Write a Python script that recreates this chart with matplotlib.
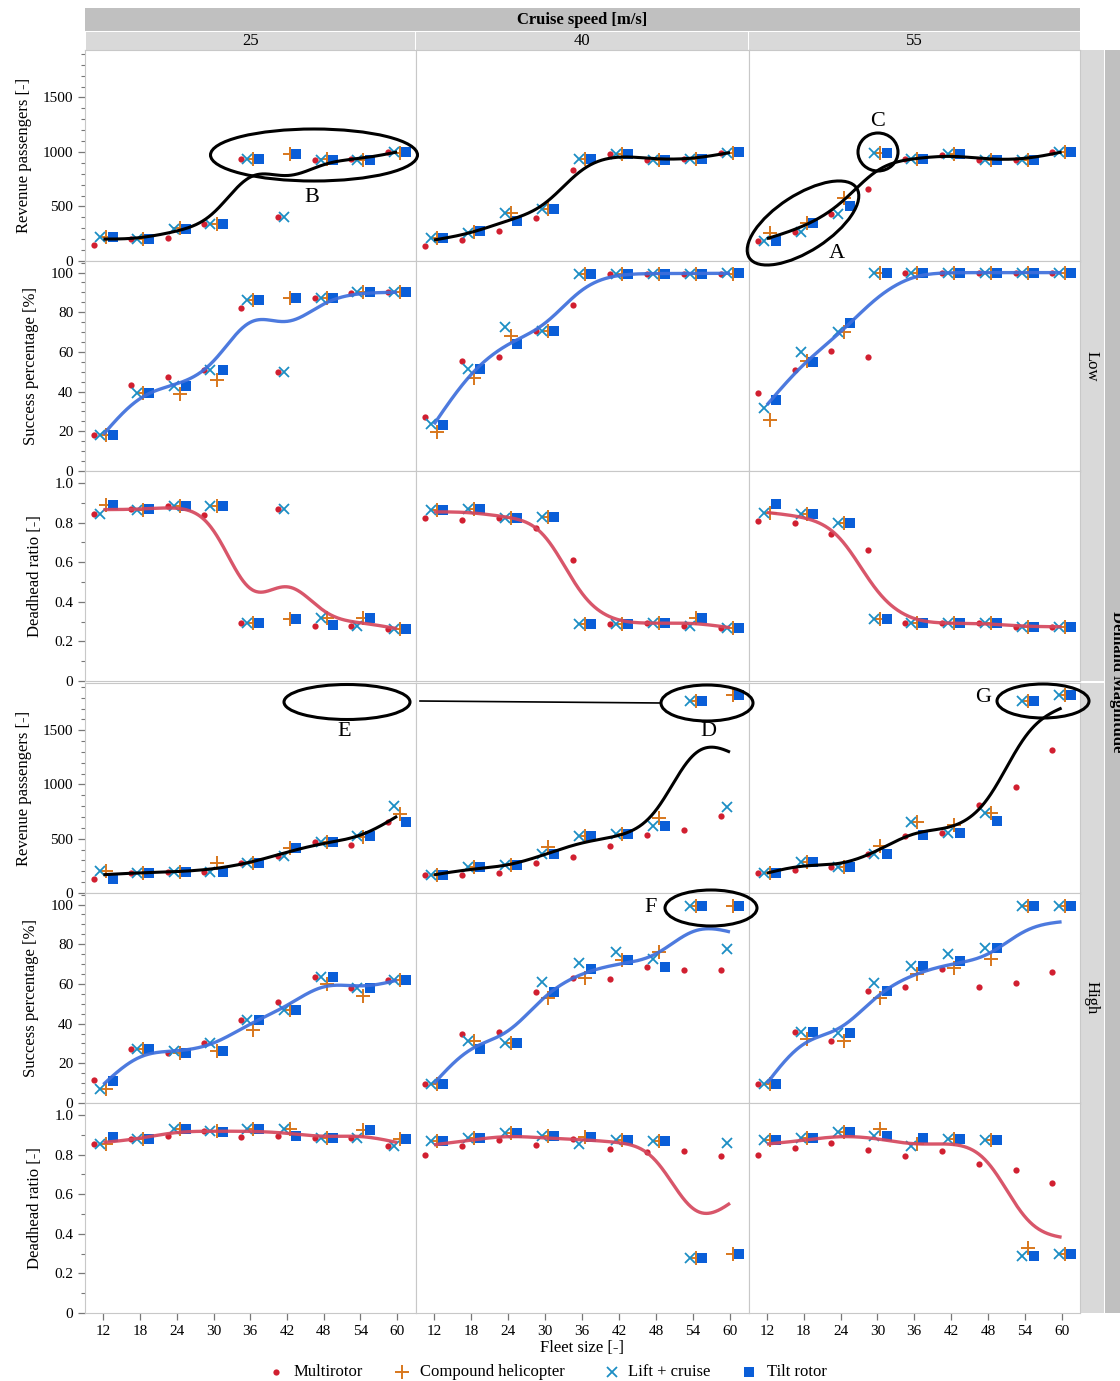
import numpy as np
import matplotlib
matplotlib.use("Agg")
import matplotlib.pyplot as plt
from matplotlib.patches import Ellipse, Rectangle
from matplotlib.lines import Line2D
from matplotlib.ticker import MultipleLocator, FuncFormatter

plt.rcParams['font.family'] = ['Liberation Serif', 'DejaVu Serif']

# ---------------- data ----------------
fleet = [12, 18, 24, 30, 36, 42, 48, 54, 60]
speeds = ['25', '40', '55']
demands = ['Low', 'High']
series = ['Multirotor', 'Compound helicopter', 'Lift + cruise', 'Tilt rotor']

# each panel: [Multirotor, Compound helicopter, Lift + cruise, Tilt rotor]
rev_low_25 = [[147, 199, 214, 336, 939, 401, 927, 932, 1003],
              [220, 200, 300, 336, 939, 979, 932, 930, 994],
              [220, 199, 291, 336, 939, 401, 927, 930, 1003],
              [220, 199, 291, 336, 938, 979, 927, 927, 1003]]
rev_low_40 = [[138, 193, 272, 394, 835, 979, 927, 932, 994],
              [214, 264, 437, 474, 939, 979, 927, 932, 994],
              [208, 256, 437, 474, 939, 979, 927, 932, 994],
              [214, 275, 367, 474, 939, 979, 927, 932, 1000]]
rev_low_55 = [[187, 269, 428, 663, 939, 969, 927, 927, 1000],
              [260, 346, 575, 991, 939, 979, 927, 927, 1000],
              [187, 269, 428, 991, 939, 979, 927, 927, 1000],
              [187, 346, 505, 991, 939, 982, 927, 927, 1000]]

succ_low_25 = [[18.2, 43.4, 47.3, 51, 82.2, 49.7, 87.2, 89.6, 90],
               [18.2, 39.5, 38.9, 46, 86.4, 87.2, 87.2, 90, 90],
               [18.2, 39.5, 42.9, 51, 86.4, 49.7, 87.2, 90, 90],
               [18.2, 39.2, 42.9, 51, 86.4, 87.2, 87.2, 90, 90]]
succ_low_40 = [[27.4, 55.6, 57.2, 70.7, 83.8, 99.5, 99.5, 99.5, 99.5],
               [19.4, 47.1, 68.2, 70.7, 99, 99.5, 99.5, 99.5, 99.5],
               [23.6, 51.3, 72.4, 70.7, 99, 99.5, 99.5, 99.5, 99.7],
               [23.2, 51.5, 64, 70.7, 99, 99.5, 99.5, 99.5, 99.7]]
succ_low_55 = [[39.5, 51, 60.6, 57.6, 99.8, 99.8, 99.8, 99.8, 99.8],
               [25.8, 55.6, 70, 99.8, 99.8, 100, 100, 100, 100],
               [31.6, 59.8, 70, 99.8, 99.8, 100, 100, 100, 100],
               [35.9, 54.9, 74.6, 99.8, 99.8, 100, 100, 100, 100]]

dead_low_25 = [[0.843, 0.867, 0.881, 0.838, 0.294, 0.867, 0.277, 0.277, 0.264],
               [0.886, 0.864, 0.881, 0.881, 0.294, 0.311, 0.32, 0.32, 0.264],
               [0.843, 0.864, 0.881, 0.881, 0.294, 0.867, 0.32, 0.277, 0.264],
               [0.889, 0.867, 0.881, 0.881, 0.294, 0.311, 0.281, 0.32, 0.264]]
dead_low_40 = [[0.821, 0.813, 0.825, 0.774, 0.609, 0.289, 0.291, 0.277, 0.269],
               [0.864, 0.869, 0.825, 0.83, 0.289, 0.289, 0.291, 0.316, 0.269],
               [0.864, 0.869, 0.825, 0.83, 0.289, 0.289, 0.291, 0.277, 0.269],
               [0.864, 0.869, 0.825, 0.83, 0.289, 0.289, 0.291, 0.316, 0.269]]
dead_low_55 = [[0.808, 0.799, 0.74, 0.66, 0.292, 0.291, 0.291, 0.274, 0.274],
               [0.85, 0.842, 0.799, 0.311, 0.292, 0.291, 0.291, 0.274, 0.274],
               [0.85, 0.842, 0.799, 0.311, 0.292, 0.291, 0.291, 0.274, 0.274],
               [0.893, 0.842, 0.799, 0.311, 0.292, 0.291, 0.291, 0.274, 0.274]]

rev_high_25 = [[130, 188, 194, 197, 275, 343, 466, 438, 651],
               [207, 188, 194, 275, 275, 414, 466, 512, 729],
               [207, 188, 194, 197, 275, 343, 466, 522, 806],
               [130, 188, 194, 197, 275, 414, 466, 522, 651]]
rev_high_40 = [[167, 167, 188, 275, 330, 429, 531, 577, 713],
               [167, 244, 259, 420, 528, 543, 691, 1771, 1824],
               [167, 244, 259, 358, 528, 543, 614, 1771, 790],
               [167, 244, 259, 358, 528, 543, 614, 1771, 1824]]
rev_high_55 = [[182, 213, 244, 358, 528, 552, 815, 975, 1318],
               [182, 290, 241, 435, 651, 630, 738, 1771, 1824],
               [182, 290, 241, 357, 651, 552, 738, 1771, 1824],
               [182, 290, 241, 357, 537, 552, 660, 1771, 1824]]

succ_high_25 = [[11.7, 27, 25.4, 30, 42, 51, 63.5, 58, 62],
                [7, 27, 25.4, 26.4, 37, 46.7, 60, 54, 62],
                [7, 27, 26, 30, 42, 46.7, 63.5, 58, 62],
                [11, 27, 25.4, 26.4, 42, 46.7, 63.5, 58, 62]]
succ_high_40 = [[9.6, 35, 36, 56, 63, 62.4, 68.5, 67, 67],
                [9.6, 31, 30, 53, 63, 72, 76, 99.5, 99.5],
                [9.6, 31, 30, 61, 70.6, 76, 72.6, 99.5, 77.7],
                [9.6, 27.4, 30, 56, 67.5, 72, 68.5, 99.5, 99.5]]
succ_high_55 = [[9.6, 36, 31, 56.3, 58.4, 67.5, 58.4, 60.4, 66],
                [9.6, 32, 31, 52.8, 65, 68, 72.6, 99.5, 99.5],
                [9.6, 36, 35.5, 60.4, 69, 75, 78, 99.5, 99.5],
                [9.6, 36, 35.5, 56.3, 69, 71.6, 78, 99.5, 99.5]]

dead_high_25 = [[0.852, 0.878, 0.893, 0.918, 0.888, 0.893, 0.883, 0.883, 0.842],
                [0.852, 0.878, 0.929, 0.918, 0.929, 0.929, 0.883, 0.923, 0.878],
                [0.852, 0.878, 0.929, 0.918, 0.929, 0.929, 0.883, 0.883, 0.842],
                [0.888, 0.878, 0.929, 0.913, 0.929, 0.893, 0.883, 0.923, 0.878]]
dead_high_40 = [[0.796, 0.842, 0.872, 0.847, 0.878, 0.827, 0.811, 0.816, 0.791],
                [0.867, 0.883, 0.908, 0.893, 0.888, 0.872, 0.867, 0.276, 0.296],
                [0.867, 0.883, 0.908, 0.893, 0.852, 0.872, 0.867, 0.276, 0.857],
                [0.867, 0.883, 0.908, 0.893, 0.888, 0.872, 0.867, 0.276, 0.296]]
dead_high_55 = [[0.796, 0.832, 0.857, 0.821, 0.791, 0.816, 0.75, 0.724, 0.658],
                [0.872, 0.883, 0.913, 0.929, 0.852, 0.878, 0.872, 0.327, 0.296],
                [0.872, 0.883, 0.913, 0.893, 0.842, 0.878, 0.872, 0.286, 0.296],
                [0.872, 0.883, 0.913, 0.893, 0.883, 0.878, 0.872, 0.286, 0.296]]

panels = [
    [rev_low_25, rev_low_40, rev_low_55],
    [succ_low_25, succ_low_40, succ_low_55],
    [dead_low_25, dead_low_40, dead_low_55],
    [rev_high_25, rev_high_40, rev_high_55],
    [succ_high_25, succ_high_40, succ_high_55],
    [dead_high_25, dead_high_40, dead_high_55],
]
row_metric = ['rev', 'succ', 'dead', 'rev', 'succ', 'dead']
ylabels = {'rev': 'Revenue passengers [-]', 'succ': 'Success percentage [%]',
           'dead': 'Deadhead ratio [-]'}

# ---------------- styling ----------------
W, H = 1120, 1381
fig = plt.figure(figsize=(W / 100, H / 100), dpi=100)

def rect(x0, y0, x1, y1):
    return [x0 / W, 1 - y1 / H, (x1 - x0) / W, (y1 - y0) / H]

col_edges = [(85, 415.5), (415.5, 748.5), (748.5, 1080)]
row_edges = [(50, 261), (261, 471), (471, 681), (683, 893), (893, 1103), (1103, 1313)]

mcol = ['#d11f30', '#d8771c', '#1c8ec4', '#0a5ed8']
mkind = ['o', '+', 'x', 's']
msize = [4.5, 9.5, 7.5, 6.5]
mew = [0, 1.4, 1.3, 0]
offs = [-1.5, 0.5, -0.5, 1.5]
curve_col = {'rev': '#000000', 'succ': '#3e6fdc', 'dead': '#d5475d'}
ylims = {'rev': (0, 1935), 'succ': (0, 105.8), 'dead': (0, 1.06)}
ymaj = {'rev': 500, 'succ': 20, 'dead': 0.2}
ymin = {'rev': 100, 'succ': 5, 'dead': 0.1}
spine_c = '#c8c8c8'

def smooth(x, y, xs, bw=4.0):
    """Gaussian-weighted local linear regression."""
    x = np.asarray(x, float)
    y = np.asarray(y, float)
    out = np.empty_like(xs)
    for i, x0 in enumerate(xs):
        w = np.exp(-0.5 * ((x - x0) / bw) ** 2)
        sw = w.sum()
        mx = (w * x).sum() / sw
        my = (w * y).sum() / sw
        sxx = (w * (x - mx) ** 2).sum()
        b = (w * (x - mx) * (y - my)).sum() / sxx if sxx > 0 else 0.0
        out[i] = my + b * (x0 - mx)
    return out

xs = np.linspace(12, 60, 400)
fx = np.array(fleet, float)

for r, (y0, y1) in enumerate(row_edges):
    metric = row_metric[r]
    for c, (x0, x1) in enumerate(col_edges):
        ax = fig.add_axes(rect(x0, y0, x1, y1))
        data = panels[r][c]
        for s in range(4):
            ax.plot(fx + offs[s], data[s], linestyle='none', marker=mkind[s],
                    ms=msize[s], mew=mew[s], color=mcol[s], zorder=3)
        means = np.mean(np.array(data, float), axis=0)
        ax.plot(xs, smooth(fx, means, xs), color=curve_col[metric],
                lw=2.4 if metric != 'rev' else 2.2, alpha=0.92 if metric != 'rev' else 1,
                zorder=4, solid_capstyle='butt')
        ax.set_xlim(9, 63)
        ax.set_ylim(*ylims[metric])
        ax.yaxis.set_major_locator(MultipleLocator(ymaj[metric]))
        ax.yaxis.set_minor_locator(MultipleLocator(ymin[metric]))
        ax.set_xticks(fleet)
        for sp in ax.spines.values():
            sp.set_color(spine_c)
            sp.set_linewidth(0.8)
        ax.tick_params(axis='both', which='both', colors='#777777', labelcolor='black',
                       labelsize=11, direction='out')
        ax.tick_params(axis='y', which='major', length=5, width=0.9)
        ax.tick_params(axis='y', which='minor', length=3, width=0.8)
        ax.tick_params(axis='x', length=5, width=0.9)
        if c != 0:
            ax.tick_params(axis='y', which='both', left=False, labelleft=False)
        else:
            if metric == 'dead':
                ax.yaxis.set_major_formatter(
                    FuncFormatter(lambda v, p: '0' if abs(v) < 1e-9 else f'{v:.1f}'))
            else:
                ax.yaxis.set_major_formatter(FuncFormatter(lambda v, p: f'{v:.0f}'))
            ax.set_ylabel(ylabels[metric], fontsize=12, labelpad=8)
        if r != 5:
            ax.tick_params(axis='x', bottom=False, labelbottom=False)

# ---------------- strips ----------------
def add_rect(x0, y0, x1, y1, color):
    fig.add_artist(Rectangle((x0 / W, 1 - y1 / H), (x1 - x0) / W, (y1 - y0) / H,
                             transform=fig.transFigure, facecolor=color,
                             edgecolor='none', zorder=0))

add_rect(85, 8, 1080, 31, '#c0c0c0')
fig.text((85 + 1080) / 2 / W, 1 - 20 / H, 'Cruise speed [m/s]', ha='center', va='center',
         fontsize=12, fontweight='bold')
for c, (x0, x1) in enumerate(col_edges):
    add_rect(x0 + 0.5, 32, x1 - 0.5, 50, '#d9d9d9')
    fig.text((x0 + x1) / 2 / W, 1 - 41 / H, speeds[c], ha='center', va='center', fontsize=12)

add_rect(1081, 50, 1104, 681, '#d9d9d9')
add_rect(1081, 683, 1104, 1313, '#d9d9d9')
add_rect(1105, 50, 1120, 1313, '#c0c0c0')
fig.text(1092 / W, 1 - 366 / H, demands[0], rotation=270, ha='center', va='center', fontsize=12)
fig.text(1092 / W, 1 - 998 / H, demands[1], rotation=270, ha='center', va='center', fontsize=12)
fig.text(1117 / W, 1 - 682 / H, 'Demand Magnitude', rotation=270, ha='center', va='center',
         fontsize=12, fontweight='bold')

# ---------------- x label & legend ----------------
fig.text(582 / W, 1 - 1348 / H, 'Fleet size [-]', ha='center', va='center', fontsize=12)
leg_mx = [276, 402, 612, 749]
leg_tx = [294, 420, 628, 767]
for s in range(4):
    fig.add_artist(Line2D([leg_mx[s] / W], [1 - 1372 / H], marker=mkind[s], ms=msize[s],
                          mew=mew[s], color=mcol[s], linestyle='none',
                          transform=fig.transFigure))
    fig.text(leg_tx[s] / W, 1 - 1372 / H, series[s], ha='left', va='center', fontsize=12)

# ---------------- annotations ----------------
T = fig.dpi_scale_trans

def pt(x, y):
    return (x / 100, (H - y) / 100)

def ell(cx, cy, w, h, ang=0):
    fig.add_artist(Ellipse(pt(cx, cy), w / 100, h / 100, angle=ang, fill=False,
                           lw=2.2, edgecolor='black', transform=T, zorder=10))

def lab(x, y, s):
    fig.text(x / W, 1 - y / H, s, ha='center', va='center', fontsize=16, zorder=10)

ell(314, 155, 207, 52)
lab(312, 197, 'B')
ell(803, 223, 128, 56, 33)
lab(837, 253, 'A')
ell(878, 152, 40, 38)
lab(878, 121, 'C')
ell(347, 702, 126, 35)
lab(344, 732, 'E')
ell(707, 703, 92, 36)
lab(708, 731, 'D')
fig.add_artist(Line2D([420 / W, 661 / W], [1 - 701 / H, 1 - 703 / H], color='black', lw=1.2,
                      transform=fig.transFigure, zorder=10))
ell(1043, 701, 92, 34)
lab(983, 698, 'G')
ell(711, 908, 92, 36)
lab(651, 908, 'F')

fig.savefig('out.png', dpi=100)
